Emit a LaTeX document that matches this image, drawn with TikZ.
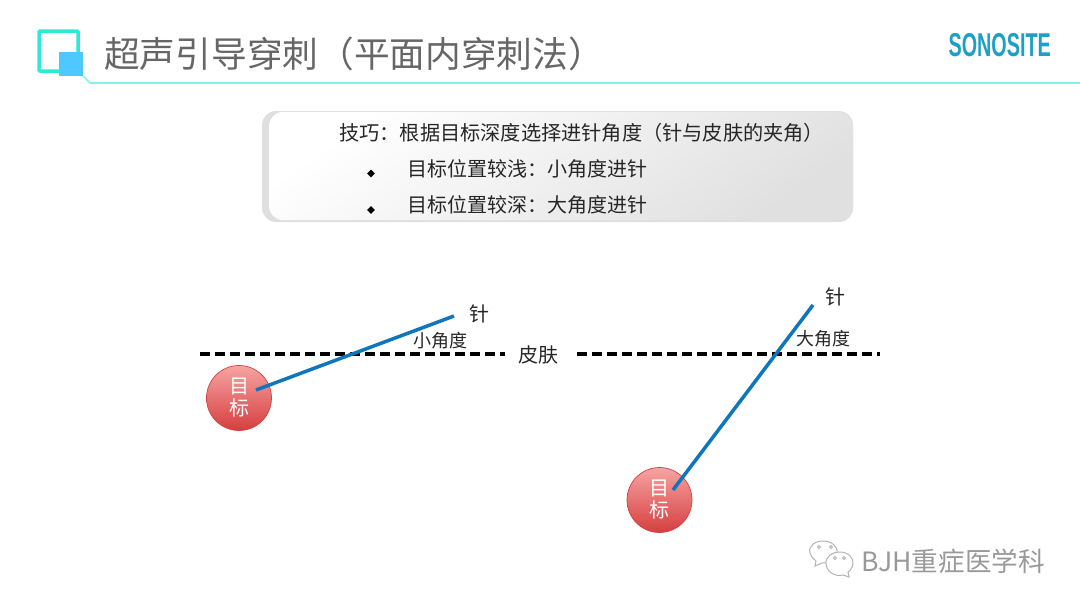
\documentclass[tikz,border=0pt]{standalone}
\usepackage{fontspec}
\setmainfont{Noto Sans CJK SC}
\newfontfamily\logofont{Liberation Sans}
\usetikzlibrary{shapes.geometric}
\definecolor{titlegray}{HTML}{666666}
\definecolor{logoteal}{HTML}{2EE8D8}
\definecolor{logoblue}{HTML}{4FC8FF}
\definecolor{ruleteal}{HTML}{84F2EA}
\definecolor{brandblue}{HTML}{1E9FC6}
\definecolor{needleblue}{HTML}{0F75BD}
\definecolor{markgray}{HTML}{B4B4B4}
\definecolor{balltop}{HTML}{F7A3A3}
\definecolor{ballmid}{HTML}{EE7F7F}
\definecolor{ballbottom}{HTML}{D53F3F}
\tikzset{
	tiptext/.style={anchor=west, inner sep=0pt, text=black!85, font=\fontsize{20}{24}\selectfont},
	label/.style={inner sep=0pt, text=black!85, font=\fontsize{18}{22}\selectfont},
	point/.style={diamond, fill=black, inner sep=0pt, minimum size=8pt},
	target/.style={circle, draw=ballbottom, line width=0.7pt, minimum size=65pt, inner sep=0pt,
		top color=balltop, middle color=ballmid, bottom color=ballbottom, text=white, align=center,
		font=\fontsize{20}{22}\selectfont},
	skin/.style={dash pattern=on 10pt off 5pt, line width=3.4pt, black},
	needle/.style={needleblue, line width=3.5pt},
	bubble/.style={draw=markgray, fill=white, line width=1pt},
	eye/.style={circle, draw=markgray, line width=0.8pt, minimum size=3pt, inner sep=0pt}
}
\begin{document}
\begin{tikzpicture}[x=1pt, y=-1pt]
		\useasboundingbox (0, 0) rectangle (1080, 608);
		
		\draw[logoteal, line width=3.5pt, rounded corners=1pt] (39, 31) rectangle (78, 71);
		\fill[logoblue] (59, 52) rectangle (83, 76);
		\draw[ruleteal, line width=1.6pt] (83, 76) -- (90, 83) -- (1080, 83);
		
		\node[anchor=west, inner sep=0pt, text=titlegray, font=\fontsize{35.7}{40}\selectfont] (title) at (104, 54) {超声引导穿刺（平面内穿刺法）};
		\node[anchor=east, inner sep=0pt, text=brandblue, xscale=0.6, font=\fontsize{33}{36}\logofont\bfseries] (brand) at (1051, 45) {SONOSITE};
		
		\fill[gray!25, rounded corners=14pt] (262, 111) rectangle (853, 222);
		\path[rounded corners=14pt, left color=white, right color=gray!24, shading angle=35] (269, 112) rectangle (853, 220);
		
		\node[tiptext, font=\fontsize{20.2}{24}\selectfont] (tip) at (339, 133) {技巧：根据目标深度选择进针角度（针与皮肤的夹角）};
		\node[tiptext] (shallow) at (407.5, 169) {目标位置较浅：小角度进针};
		\node[tiptext] (deep) at (407.5, 205) {目标位置较深：大角度进针};
		\node[point] (point1) at (371, 173.5) {};
		\node[point] (point2) at (371, 210) {};
		
		\coordinate (skin1a) at (200, 354);
		\coordinate (skin1b) at (505, 354);
		\coordinate (skin2a) at (577, 354);
		\coordinate (skin2b) at (880, 354);
		\draw[skin] (skin1a) -- (skin1b);
		\draw[skin] (skin2a) -- (skin2b);
		
		\node[target] (target1) at (239, 398) {目\\标};
		\node[target] (target2) at (659.5, 500) {目\\标};
		
		\coordinate (tip1a) at (256, 390);
		\coordinate (tip1b) at (454, 316);
		\coordinate (tip2a) at (673, 490);
		\coordinate (tip2b) at (813, 305);
		\draw[needle] (tip1a) -- (tip1b);
		\draw[needle] (tip2a) -- (tip2b);
		
		\node[label] (small) at (440.5, 341) {小角度};
		\node[label] (large) at (823.5, 339) {大角度};
		\node[label, font=\fontsize{20}{24}\selectfont] (needle1) at (479, 314) {针};
		\node[label, font=\fontsize{20}{24}\selectfont] (needle2) at (835, 297) {针};
		\node[label, font=\fontsize{20}{24}\selectfont] (skin) at (538, 355) {皮肤};
		
		\draw[bubble] (810, 553) .. controls (808, 546) and (815, 541) .. (823, 541) .. controls (831, 541) and (838, 546) .. (837, 553) .. controls (836, 560) and (828, 564) .. (822, 563) -- (815, 566) -- (816, 561) .. controls (813, 559) and (811, 556) .. (810, 553) -- cycle;
		\draw[bubble] (826, 564) .. controls (825, 557) and (832, 552) .. (840, 552) .. controls (848, 552) and (854, 558) .. (853, 564) .. controls (852, 568) and (850, 571) .. (848, 572) -- (849, 577) -- (843, 575) .. controls (835, 577) and (827, 572) .. (826, 564) -- cycle;
		\node[eye] (eye1) at (819, 547) {};
		\node[eye] (eye2) at (831, 547) {};
		\node[eye] (eye3) at (835, 558) {};
		\node[eye] (eye4) at (844, 558) {};
		\node[inner sep=0pt, anchor=west, text=markgray!85!black, font=\fontsize{26.6}{30}\selectfont] (mark) at (861, 561) {BJH重症医学科};
	\end{tikzpicture}
\end{document}
